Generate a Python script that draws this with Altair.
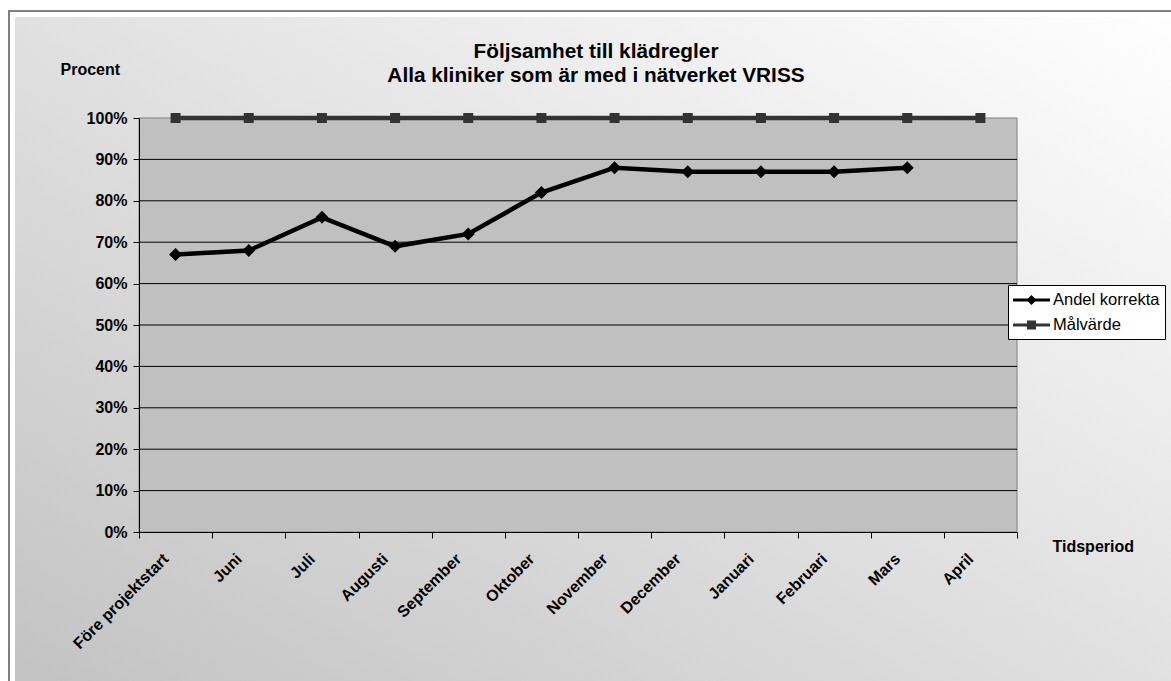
import altair as alt
import pandas as pd

# ---------------- data ----------------
categories = ["Före projektstart", "Juni", "Juli", "Augusti", "September", "Oktober",
              "November", "December", "Januari", "Februari", "Mars", "April"]
andel_korrekta = [0.67, 0.68, 0.76, 0.69, 0.72, 0.82, 0.88, 0.87, 0.87, 0.87, 0.88]
malvarde = [1.0, 1.0, 1.0, 1.0, 1.0, 1.0, 1.0, 1.0, 1.0, 1.0, 1.0, 1.0]
series_names = ["Andel korrekta", "Målvärde"]
series_colors = ["#000000", "#333333"]
y_ticks = [0.0, 0.1, 0.2, 0.3, 0.4, 0.5, 0.6, 0.7, 0.8, 0.9, 1.0]
grid_values = [0.1, 0.2, 0.3, 0.4, 0.5, 0.6, 0.7, 0.8, 0.9]
title_lines = ["Följsamhet till klädregler", "Alla kliniker som är med i nätverket VRISS"]

rows = []
for c, v in zip(categories, andel_korrekta):
    rows.append({"period": c, "serie": series_names[0], "value": v})
for c, v in zip(categories, malvarde):
    rows.append({"period": c, "serie": series_names[1], "value": v})
df = pd.DataFrame(rows)

# ---------------- layout ----------------
W, H = 878, 414
PAD_L, PAD_T = 139, 118
FONT = "Liberation Sans, Arial, sans-serif"

x_scale = alt.Scale(domain=categories, paddingInner=0, paddingOuter=0)
y_scale = alt.Scale(domain=[0, 1], nice=False, zero=True)

x_axis = alt.Axis(
    tickBand="extent", ticks=True, tickSize=6, tickColor="black", tickWidth=1,
    domainColor="black", domainWidth=1, grid=False,
    labelAngle=-45, labelAlign="right", labelBaseline="middle",
    labelOffset=-10, labelPadding=18, labelOverlap=False, labelLimit=300,
    labelFont=FONT, labelFontSize=16, labelFontWeight="bold", labelColor="black",
    title="Tidsperiod", titleX=913, titleY=19, titleAlign="left", titleBaseline="alphabetic",
    titleFont=FONT, titleFontSize=16, titleFontWeight="bold", titleColor="black",
    zindex=1,
)
y_axis = alt.Axis(
    values=y_ticks, format=".0%", grid=False,
    domainColor="black", domainWidth=1, tickColor="black", tickSize=6, tickWidth=1,
    labelFont=FONT, labelFontSize=16, labelFontWeight="bold", labelColor="black", labelPadding=6,
    title="Procent", titleAngle=0, titleX=-79, titleY=-44, titleAlign="left",
    titleBaseline="alphabetic", titleFont=FONT, titleFontSize=16, titleFontWeight="bold",
    titleColor="black", zindex=1,
)

one = alt.Data(values=[{"k": 0}])

gradient = alt.LinearGradient(
    gradient="linear",
    stops=[alt.GradientStop(offset=0, color="#c2c2c2"), alt.GradientStop(offset=1, color="#ffffff")],
    x1=0, y1=1, x2=1, y2=0,
)

bg = alt.Chart(one).mark_rect(fill=gradient).encode(
    x=alt.value(15 - PAD_L), x2=alt.value(1190 - PAD_L),
    y=alt.value(17 - PAD_T), y2=alt.value(700 - PAD_T),
)
frame = alt.Chart(one).mark_rect(fill="white", fillOpacity=0, stroke="#808080", strokeWidth=2).encode(
    x=alt.value(9 - PAD_L), x2=alt.value(1200 - PAD_L),
    y=alt.value(11 - PAD_T), y2=alt.value(710 - PAD_T),
)
plot_bg = alt.Chart(one).mark_rect(fill="#c0c0c0", stroke="#808080", strokeWidth=1).encode(
    x=alt.value(0), x2=alt.value(W), y=alt.value(0), y2=alt.value(H),
)
grid = alt.Chart(pd.DataFrame({"value": grid_values})).mark_rule(color="black", strokeWidth=1).encode(
    y=alt.Y("value:Q", scale=y_scale, axis=y_axis),
)

base = alt.Chart(df).encode(
    x=alt.X("period:N", scale=x_scale, axis=x_axis),
    y=alt.Y("value:Q", scale=y_scale, axis=y_axis),
)

mal_line = base.transform_filter(alt.datum.serie == series_names[1]).mark_line(
    color=series_colors[1], strokeWidth=4.5,
    point=alt.OverlayMarkDef(shape="square", size=100, filled=True, color=series_colors[1], opacity=1),
)
andel_line = base.transform_filter(alt.datum.serie == series_names[0]).mark_line(
    color=series_colors[0], strokeWidth=4.5,
    point=alt.OverlayMarkDef(shape="diamond", size=169, filled=True, color=series_colors[0], opacity=1),
)

# legend symbols: a short line with its marker (1 unit = 10 px at symbol size 400)
sym_andel = "M-1,-0.15H2.7V0.15H-1Z M0.85,-0.5L1.35,0L0.85,0.5L0.35,0Z"
sym_mal = "M-1,-0.15H2.7V0.15H-1Z M0.4,-0.45H1.3V0.45H0.4Z"

legend_layer = base.transform_filter("datum.value > 5").mark_point(filled=True, opacity=1).encode(
    fill=alt.Fill("serie:N", scale=alt.Scale(domain=series_names, range=series_colors),
                  legend=alt.Legend(title=None)),
    shape=alt.Shape("serie:N", scale=alt.Scale(domain=series_names, range=[sym_andel, sym_mal]),
                    legend=alt.Legend(title=None)),
)

chart = alt.layer(bg, frame, plot_bg, grid, mal_line, andel_line, legend_layer).properties(
    width=W, height=H,
    autosize=alt.AutoSizeParams(type="none"),
    padding={"left": PAD_L, "top": PAD_T, "right": 1171 - PAD_L - W, "bottom": 681 - PAD_T - H},
    title=alt.TitleParams(
        text=title_lines, font=FONT, fontSize=20.8, fontWeight="bold", color="black",
        anchor="middle", frame="group", dx=18, dy=97, offset=0, baseline="bottom", lineHeight=24,
    ),
).configure(background="white").configure_view(stroke=None).configure_legend(
    orient="none", legendX=869, legendY=167, padding=5,
    strokeColor="black", fillColor="white",
    labelFont=FONT, labelFontSize=16.5, labelColor="black", labelOffset=20,
    rowPadding=6, symbolSize=400, symbolStrokeWidth=0, labelLimit=300,
)

chart.save("out.html", embed_options={"renderer": "svg", "actions": False})
